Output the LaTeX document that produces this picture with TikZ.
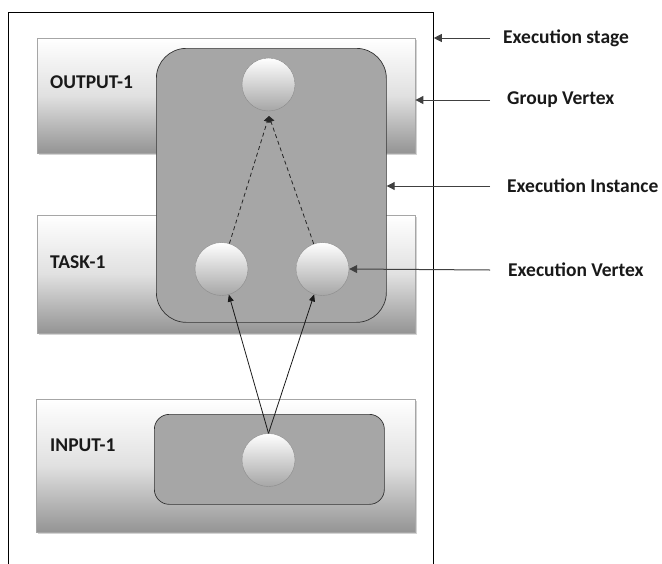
\documentclass[tikz,border=0pt]{standalone}
\usepackage{fontspec}
\setmainfont{Carlito}
\usetikzlibrary{arrows.meta,shadows}
\tikzset{
  lbl/.style={font=\bfseries\fontsize{19.5}{23}\selectfont, text=black!90, inner sep=0pt, anchor=west},
  stagebox/.style={draw=black!35, top color=white, bottom color=black!42, middle color=white!88!black, drop shadow={shadow xshift=2pt, shadow yshift=-2pt, opacity=0.35}},
  inst/.style={draw=black!80, line width=0.7pt, fill=black!35},
  vtx/.style={circle, minimum size=53pt, inner sep=0pt, draw=black!45, top color=white, bottom color=black!35},
  ptr/.style={draw=black!75, line width=1pt, -{Triangle[length=8pt,width=8pt]}},
  dep/.style={draw=black!85, line width=0.8pt, dashed, dash pattern=on 4pt off 3pt, -{Triangle[length=6pt,width=7pt]}},
  flow/.style={draw=black!90, line width=0.8pt, -{Triangle[length=7pt,width=6pt]}}
}
\begin{document}
\begin{tikzpicture}[x=1pt,y=-1pt]
\useasboundingbox (0,0) rectangle (662,563);
\begin{scope}
\clip (0,0) rectangle (662,563);
\node[draw=black, line width=0.8pt, minimum width=425pt, minimum height=580pt, inner sep=0pt, anchor=north west] (frame) at (8,12) {};
\end{scope}
% stages
\node[stagebox, minimum width=378pt, minimum height=115pt, inner sep=0pt, anchor=north west] (out) at (37,38) {};
\node[stagebox, minimum width=378pt, minimum height=118pt, inner sep=0pt, anchor=north west] (task) at (37,215) {};
\node[stagebox, minimum width=379pt, minimum height=133pt, inner sep=0pt, anchor=north west] (in) at (36,399) {};
\node[lbl] (outl) at (50,82) {OUTPUT-1};
\node[lbl] (taskl) at (50,262) {TASK-1};
\node[lbl] (inl) at (50,445) {INPUT-1};
% instances
\node[inst, rounded corners=30pt, minimum width=230pt, minimum height=274pt, inner sep=0pt, anchor=north west] (ei) at (156,48) {};
\node[inst, rounded corners=15pt, minimum width=230pt, minimum height=90pt, inner sep=0pt, anchor=north west] (ii) at (154,414) {};
% vertices
\node[vtx] (gv) at (268.5,84.5) {};
\node[vtx] (v1) at (221.5,269) {};
\node[vtx] (v2) at (322.5,269) {};
\node[vtx] (iv) at (268.5,460) {};
\coordinate (meet) at (269,116);
\draw[dep] (v1) -- (meet);
\draw[dep] (v2) -- (meet);
\draw[flow] (iv.north) -- (v1);
\draw[flow] (iv.north) -- (v2);
% legend
\node[lbl] (l1) at (503,38) {Execution stage};
\node[lbl] (l2) at (507,100) {Group Vertex};
\node[lbl] (l3) at (507,186) {Execution Instance};
\node[lbl] (l4) at (508,270) {Execution Vertex};
\coordinate (s1) at (490,38);
\coordinate (s2) at (490,100);
\coordinate (s3) at (490,186);
\coordinate (s4) at (490,270);
\draw[ptr] (s1) -- (s1 -| frame.east);
\draw[ptr] (s2) -- (s2 -| out.east);
\draw[ptr] (s3) -- (s3 -| ei.east);
\draw[ptr] (s4) -- (v2.east);
\end{tikzpicture}
\end{document}
